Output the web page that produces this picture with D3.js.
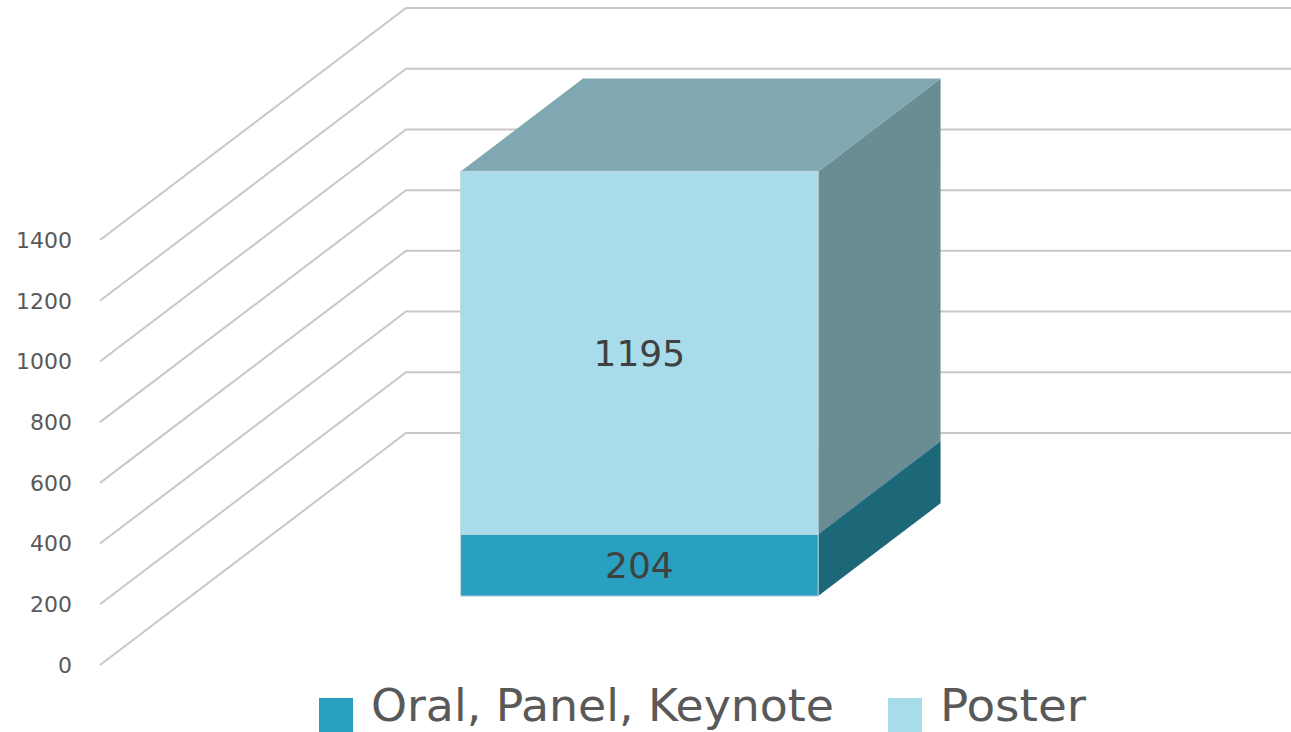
<!DOCTYPE html>
<html>
<head>
<meta charset="utf-8">
<script src="https://cdn.jsdelivr.net/npm/d3@7"></script>
<style>
  html, body { margin: 0; padding: 0; background: #fff; }
  svg { display: block; }
</style>
</head>
<body>
<div id="chart"></div>
<script>
// chart values
const categories = ["Total"]
const seriesNames = ["Oral, Panel, Keynote", "Poster"]
const oralValues = [204]
const posterValues = [1195]
const yTicks = [0, 200, 400, 600, 800, 1000, 1200, 1400]

const width = 1291
const height = 732

// 3d look: how far the back wall sits from the front plane
const DX = 306
const DY = 232
const barZ0 = 0.297
const barZ1 = 0.697

const colors = {
  front: ["#2aa0c0", "#a8dcea"],
  side:  ["#1c6878", "#6a8c93"],
  top:   ["#1f7d93", "#7fa8b2"]
}

let data = categories.map(function(c, i) {
  return {cat: c, oral: oralValues[i], poster: posterValues[i]}
})
let stack = d3.stack().keys(["oral", "poster"])(data)

let y = d3.scaleLinear().domain([0, 1400]).range([665, 240])
let x = d3.scaleBand().domain(categories).range([100, 997]).padding(0.43)

// project (front x, value, depth 0..1) to screen
function proj(px, v, z) {
  return [px + z * DX, y(v) - z * DY]
}

let svg = d3.select("#chart").append("svg")
  .attr("width", width)
  .attr("height", height)

// gridlines: diagonal on the side wall, then flat along the back wall
let grid = svg.append("g").attr("class", "grid")
yTicks.forEach(function(t) {
  let a = proj(100, t, 0)
  let b = proj(100, t, 1)
  grid.append("path")
    .attr("d", "M" + a + "L" + b + "L" + width + "," + b[1])
    .attr("fill", "none")
    .attr("stroke", "#c8c8c8")
    .attr("stroke-width", 2)
})

// y axis labels
svg.append("g").selectAll("text")
  .data(yTicks)
  .join("text")
  .attr("x", 72)
  .attr("y", function(d) { return y(d) })
  .attr("dy", "0.36em")
  .attr("text-anchor", "end")
  .attr("font-family", "DejaVu Sans, sans-serif")
  .attr("font-size", 22)
  .attr("fill", "#595959")
  .text(function(d) { return d })

// bars
let bars = svg.append("g")
stack.forEach(function(layer, li) {
  layer.forEach(function(d) {
    let x0 = x(d.data.cat)
    let x1 = x0 + x.bandwidth()
    let fl = proj(x0, d[0], barZ0), fr = proj(x1, d[0], barZ0)
    let tl = proj(x0, d[1], barZ0), tr = proj(x1, d[1], barZ0)
    let br = proj(x1, d[0], barZ1), trb = proj(x1, d[1], barZ1)
    let tlb = proj(x0, d[1], barZ1)

    // right side
    bars.append("path")
      .attr("d", "M" + fr + "L" + br + "L" + trb + "L" + tr + "Z")
      .attr("fill", colors.side[li])

    // top
    bars.append("path")
      .attr("d", "M" + tl + "L" + tr + "L" + trb + "L" + tlb + "Z")
      .attr("fill", colors.top[li])

    // front
    bars.append("rect")
      .attr("x", tl[0])
      .attr("y", tl[1])
      .attr("width", tr[0] - tl[0])
      .attr("height", fl[1] - tl[1])
      .attr("fill", colors.front[li])
      .attr("stroke", "#c4d6da")
      .attr("stroke-width", 1)

    bars.append("text")
      .attr("x", (tl[0] + tr[0]) / 2)
      .attr("y", (tl[1] + fl[1]) / 2)
      .attr("dy", "0.36em")
      .attr("text-anchor", "middle")
      .attr("font-family", "DejaVu Sans, sans-serif")
      .attr("font-size", 36)
      .attr("fill", "#404040")
      .text(d[1] - d[0])
  })
})

// legend
let legendItems = [
  {name: seriesNames[0], color: colors.front[0], x: 319, w: 463},
  {name: seriesNames[1], color: colors.front[1], x: 888, w: 146}
]
let legend = svg.append("g")
legendItems.forEach(function(it) {
  legend.append("rect")
    .attr("x", it.x)
    .attr("y", 698)
    .attr("width", 34)
    .attr("height", 34)
    .attr("fill", it.color)
  legend.append("text")
    .attr("x", it.x + 52)
    .attr("y", 721)
    .attr("font-family", "DejaVu Sans Condensed, DejaVu Sans, sans-serif")
    .attr("font-size", 44)
    .attr("fill", "#595959")
    .attr("textLength", it.w)
    .attr("lengthAdjust", "spacingAndGlyphs")
    .text(it.name)
})
</script>
</body>
</html>
